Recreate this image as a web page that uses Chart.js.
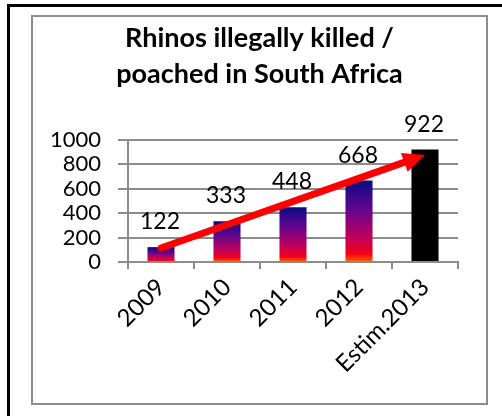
<!DOCTYPE html>
<html>
<head>
<meta charset="utf-8">
<script src="https://cdn.jsdelivr.net/npm/chart.js@4/dist/chart.umd.min.js"></script>
<style>
  html, body { margin: 0; padding: 0; background: #fff; }
  body { width: 502px; height: 416px; position: relative; overflow: hidden; }
  #frame {
    position: absolute; left: 7px; top: 4px; width: 495px; height: 412px;
    border-top: 3px solid #000; border-left: 3px solid #000; box-sizing: border-box;
  }
  #box {
    position: absolute; left: 31px; top: 15px; width: 457px; height: 390px;
    border: 2px solid #8c8c8c; box-sizing: border-box;
  }
  #chart { position: absolute; left: 33px; top: 17px; }
</style>
</head>
<body>
<div id="frame"></div>
<div id="box"></div>
<canvas id="chart" width="453" height="386"></canvas>
<script>
const years = ["2009", "2010", "2011", "2012", "Estim.2013"];
const kills = [122, 333, 448, 668, 922];
const yTicks = [0, 200, 400, 600, 800, 1000];
const titleLines = ["Rhinos illegally killed /", "poached in South Africa"];
// trend arrow, in [category index, value]
const arrowStart = [0, 115];
const arrowEnd = [4, 877];

const FONT = "Lato";
const GRID = "#8c8c8c";

// each bar gets its own vertical gradient, the estimate is solid black
function barFill(ctx) {
  const chart = ctx.chart;
  if (ctx.type !== "data") return "#400080";
  if (ctx.dataIndex === kills.length - 1) return "#000000";
  if (!chart.chartArea) return "#400080";
  const y = chart.scales.y;
  const top = y.getPixelForValue(kills[ctx.dataIndex]);
  const bottom = y.getPixelForValue(0);
  const g = chart.ctx.createLinearGradient(0, top, 0, bottom);
  g.addColorStop(0, "#0a0a84");
  g.addColorStop(0.35, "#62058f");
  g.addColorStop(0.7, "#c0005c");
  g.addColorStop(0.9, "#f20018");
  g.addColorStop(1, "#ff6a00");
  return g;
}

const valueLabels = {
  id: "valueLabels",
  afterDatasetsDraw(chart) {
    const ctx = chart.ctx;
    const meta = chart.getDatasetMeta(0);
    ctx.save();
    ctx.font = "23px " + FONT;
    ctx.fillStyle = "#000";
    ctx.textAlign = "center";
    ctx.textBaseline = "alphabetic";
    meta.data.forEach(function (bar, i) {
      ctx.fillText(String(kills[i]), bar.x - 1, bar.y - 18);
    });
    ctx.restore();
  }
};

const trendArrow = {
  id: "trendArrow",
  afterDraw(chart) {
    const ctx = chart.ctx;
    const xs = chart.scales.x, ys = chart.scales.y;
    const x0 = xs.getPixelForValue(arrowStart[0]), y0 = ys.getPixelForValue(arrowStart[1]);
    const x1 = xs.getPixelForValue(arrowEnd[0]), y1 = ys.getPixelForValue(arrowEnd[1]);
    const a = Math.atan2(y1 - y0, x1 - x0);
    const headLen = 22, headHalf = 10;
    const bx = x1 - headLen * Math.cos(a), by = y1 - headLen * Math.sin(a);
    ctx.save();
    ctx.strokeStyle = "#ff0000";
    ctx.fillStyle = "#ff0000";
    ctx.lineWidth = 7;
    ctx.lineCap = "round";
    ctx.beginPath();
    ctx.moveTo(x0, y0);
    ctx.lineTo(bx + 2 * Math.cos(a), by + 2 * Math.sin(a));
    ctx.stroke();
    ctx.beginPath();
    ctx.moveTo(x1, y1);
    ctx.lineTo(bx - headHalf * Math.sin(a), by + headHalf * Math.cos(a));
    ctx.lineTo(bx + headHalf * Math.sin(a), by - headHalf * Math.cos(a));
    ctx.closePath();
    ctx.fill();
    ctx.restore();
  }
};

new Chart(document.getElementById("chart"), {
  type: "bar",
  data: {
    labels: years,
    datasets: [{
      data: kills,
      backgroundColor: barFill,
      borderWidth: 0,
      barPercentage: 0.41,
      categoryPercentage: 1
    }]
  },
  options: {
    responsive: false,
    animation: false,
    layout: { padding: 0 },
    plugins: {
      legend: { display: false },
      tooltip: { enabled: false },
      title: {
        display: true,
        text: titleLines,
        color: "#000",
        font: { family: FONT, size: 27, weight: "bold", lineHeight: 36 / 27 },
        padding: { top: 3, bottom: 48 }
      }
    },
    scales: {
      x: {
        grid: { drawOnChartArea: false, color: GRID, lineWidth: 2, tickLength: 7 },
        border: { color: GRID, width: 2 },
        ticks: {
          color: "#000",
          font: { family: FONT, size: 24 },
          maxRotation: 45,
          minRotation: 45,
          autoSkip: false,
          padding: 4
        },
        afterFit(scale) {
          scale.height = 141;
          scale.paddingRight = 28;
        }
      },
      y: {
        min: 0,
        max: 1000,
        afterBuildTicks(scale) {
          scale.ticks = yTicks.map(function (v) { return { value: v }; });
        },
        grid: { color: GRID, lineWidth: 2, tickLength: 10 },
        border: { color: GRID, width: 2 },
        ticks: {
          color: "#000",
          font: { family: FONT, size: 22 },
          autoSkip: false,
          padding: 17,
          callback: function (value) { return String(value); }
        },
        afterFit(scale) {
          scale.width = 95;
        }
      }
    }
  },
  plugins: [valueLabels, trendArrow]
});
</script>
</body>
</html>
